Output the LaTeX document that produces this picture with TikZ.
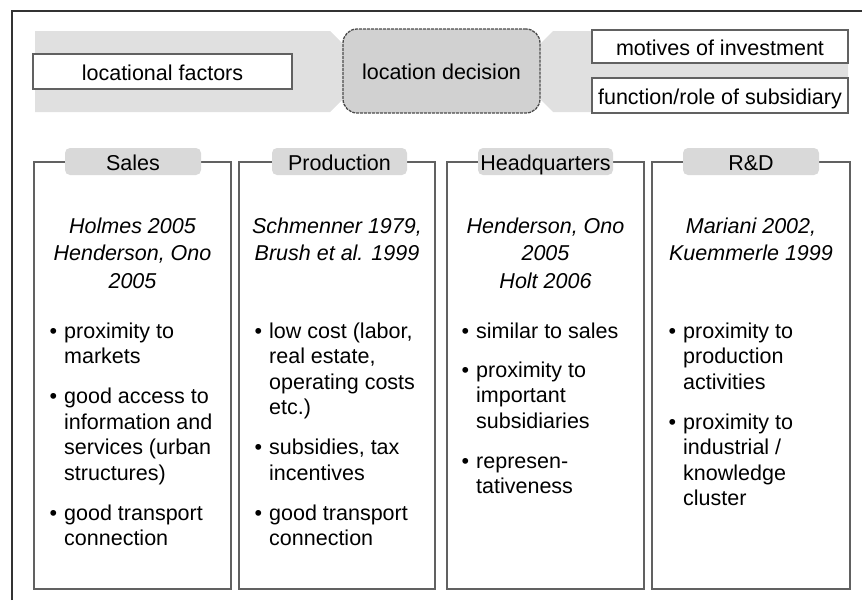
\documentclass[tikz,border=0pt]{standalone}
\usepackage{fontspec}
\setmainfont{Liberation Sans}
\definecolor{bandc}{gray}{0.88}
\definecolor{tabc}{gray}{0.85}
\definecolor{centerc}{gray}{0.82}
\definecolor{boxline}{gray}{0.38}
\tikzset{
  txt/.style={font=\fontsize{21.5}{25.5}\selectfont},
  whitebox/.style={txt, draw=boxline, fill=white, line width=1.2pt, inner sep=0pt, text height=17pt, text depth=0pt},
  centerbox/.style={txt, draw=black!70, fill=centerc, line width=1.3pt, dash pattern=on 3pt off 1pt, rounded corners=14pt, inner sep=0pt, text height=17pt, text depth=0pt},
  colbox/.style={draw=boxline, line width=1.4pt, inner sep=0pt},
  tabbox/.style={txt, fill=tabc, rounded corners=5pt, inner sep=0pt, minimum height=27pt, text height=17pt, text depth=0pt},
  refs/.style={font=\fontsize{21.5}{27.5}\selectfont\itshape, align=center, anchor=base, inner sep=0pt},
  item/.style={txt, align=left, anchor=base west, inner sep=0pt},
  bandfill/.style={fill=bandc, draw=none},
  frame/.style={draw=black!80, line width=1.4pt},
}
\newcommand{\bul}{\llap{\textbullet\hspace{7pt}}}
\begin{document}
\begin{tikzpicture}[x=1pt,y=-1pt]
\useasboundingbox (0,0) rectangle (862,600);
% outer frame
\coordinate (fb) at (12,600);
\coordinate (ft) at (12,11);
\coordinate (fr) at (862,11);
\draw[frame] (fb) -- (ft) -- (fr);
% bands
\fill[bandfill] (35,31) -- (330,31) -- (370.5,71.5) -- (330,112) -- (35,112) -- cycle;
\fill[bandfill] (848,31) -- (553,31) -- (512.5,71.5) -- (553,112) -- (848,112) -- cycle;
% top boxes
\node[whitebox, minimum width=259pt, minimum height=35pt] (lf) at (162.5,71.5) {locational factors};
\node[centerbox, minimum width=197pt, minimum height=84pt] (ld) at (441.5,71) {location decision};
\node[whitebox, minimum width=256pt, minimum height=33pt] (mi) at (720,46.5) {motives of investment};
\node[whitebox, minimum width=256pt, minimum height=35pt] (fs) at (720,95.5) {function/role of subsidiary};
% column boxes
\node[colbox, minimum width=197pt, minimum height=427pt] (cs) at (132.5,375.5) {};
\node[colbox, minimum width=196pt, minimum height=427pt] (cp) at (337,375.5) {};
\node[colbox, minimum width=197pt, minimum height=427pt] (ch) at (545.5,375.5) {};
\node[colbox, minimum width=198pt, minimum height=427pt] (cr) at (751,375.5) {};
% tabs
\node[tabbox, minimum width=136pt] (ts) at (133,161.5) {Sales};
\node[tabbox, minimum width=135pt] (tp) at (339.5,161.5) {Production};
\node[tabbox, minimum width=135pt] (th) at (545.5,161.5) {Headquarters};
\node[tabbox, minimum width=136pt] (tr) at (751,161.5) {R\&D};
% references (anchored at the baseline of the last line)
\node[refs] (rs) at (132.5,288) {Holmes 2005\\Henderson, Ono\\2005};
\node[refs] (rp) at (337,260.5) {Schmenner 1979,\\Brush et al. 1999};
\node[refs] (rh) at (545.5,288) {Henderson, Ono\\2005\\Holt 2006};
\node[refs] (rr) at (751,260.5) {Mariani 2002,\\Kuemmerle 1999};
% Sales items
\node[item] (s1) at (64,363.5) {\bul proximity to\\markets};
\node[item] (s2) at (64,480) {\bul good access to\\information and\\services (urban\\structures)};
\node[item] (s3) at (64,545.5) {\bul good transport\\connection};
% Production items
\node[item] (p1) at (269,414.5) {\bul low cost (labor,\\real estate,\\operating costs\\etc.)};
\node[item] (p2) at (269,480) {\bul subsidies, tax\\incentives};
\node[item] (p3) at (269,545.5) {\bul good transport\\connection};
% Headquarters items
\node[item] (h1) at (476,338) {\bul similar to sales};
\node[item] (h2) at (476,428) {\bul proximity to\\important\\subsidiaries};
\node[item] (h3) at (476,493.5) {\bul represen-\\tativeness};
% R&D items
\node[item] (d1) at (683,389) {\bul proximity to\\production\\activities};
\node[item] (d2) at (683,505.5) {\bul proximity to\\industrial /\\knowledge\\cluster};
\end{tikzpicture}
\end{document}
